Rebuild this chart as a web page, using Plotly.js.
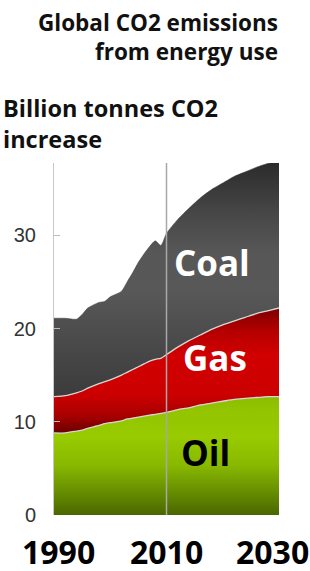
<!DOCTYPE html>
<html>
<head>
<meta charset="utf-8">
<script src="https://cdn.plot.ly/plotly-3.0.1.min.js"></script>
<style>html,body{margin:0;padding:0;background:#fff;}#chart{width:310px;height:571px;}</style>
</head>
<body>
<div id="chart"></div>
<script>
// Years (1990 – 2030)
const years = [1990, 1992, 1994, 1995, 1996, 1998, 1999, 2000, 2002, 2003, 2004, 2005, 2006, 2007, 2008, 2009, 2010, 2012, 2014, 2016, 2018, 2020, 2022, 2024, 2026, 2028, 2030];
// Billion tonnes CO2 per fuel (stacked: oil at bottom, then gas, then coal)
const oil  = [8.8, 8.8, 9.0, 9.1, 9.3, 9.6, 9.8, 9.9, 10.1, 10.3, 10.4, 10.5, 10.6, 10.7, 10.8, 10.9, 11.0, 11.3, 11.5, 11.8, 12.0, 12.2, 12.4, 12.5, 12.6, 12.7, 12.7];
const gas  = [3.9, 4.0, 4.1, 4.2, 4.3, 4.5, 4.5, 4.6, 4.9, 5.0, 5.2, 5.4, 5.6, 5.8, 5.9, 5.9, 6.2, 6.7, 7.2, 7.5, 7.9, 8.2, 8.4, 8.7, 9.0, 9.2, 9.5];
const coal = [8.4, 8.3, 7.9, 8.2, 8.6, 8.7, 8.6, 8.9, 9.0, 9.7, 10.4, 11.2, 11.8, 12.3, 12.7, 12.1, 13.0, 13.7, 14.2, 14.7, 15.0, 15.2, 15.5, 15.6, 15.7, 15.8, 15.7];

const yTicks = [0, 10, 20, 30];
const xLabels = ['1990', '2010', '2030'];
const xLabelYears = [1990, 2010, 2030];
const fuelNames = ['Oil', 'Gas', 'Coal'];
const fuelLabelX = [2017.0, 2018.6, 2018.1];
const fuelLabelY = [6.75, 16.9, 27.1];

const W = 310, H = 571;
const M = {l: 54, r: 31, t: 163, b: 56};
const plotH = H - M.t - M.b;
const baseY = H - M.b;

const traces = [
  {
    x: years, y: oil, name: 'Oil', type: 'scatter', mode: 'lines', stackgroup: 'one',
    line: {color: '#d6d6d6', width: 1.3, shape: 'spline', smoothing: 0.6},
    fillgradient: {type: 'vertical', start: 0, stop: 38,
      colorscale: [[0, '#4a6600'], [0.06, '#648b00'], [0.14, '#88b800'], [0.22, '#98cb00'], [0.3, '#92c400'], [0.36, '#88b600'], [1, '#88b600']]}
  },
  {
    x: years, y: gas, name: 'Gas', type: 'scatter', mode: 'lines', stackgroup: 'one',
    line: {color: '#d6d6d6', width: 1.3, shape: 'spline', smoothing: 0.6},
    fillgradient: {type: 'vertical', start: 0, stop: 38,
      colorscale: [[0, '#600000'], [0.23, '#680000'], [0.28, '#a80000'], [0.34, '#cc0000'], [0.45, '#d20000'], [0.52, '#b40000'], [0.59, '#780000'], [1, '#780000']]}
  },
  {
    x: years, y: coal, name: 'Coal', type: 'scatter', mode: 'lines', stackgroup: 'one',
    line: {color: '#3a3a3a', width: 0.5, shape: 'spline', smoothing: 0.6},
    fillgradient: {type: 'vertical', start: 0, stop: 38,
      colorscale: [[0, '#3a3a3a'], [0.34, '#3c3c3c'], [0.47, '#484848'], [0.63, '#585858'], [0.74, '#575757'], [0.85, '#474747'], [1, '#2a2a2a']]}
  }
];

const annotations = [];
// y-axis caption
annotations.push({
  text: 'Billion tonnes CO2<br>increase', xref: 'paper', yref: 'paper',
  x: (1 - M.l) / (W - M.l - M.r), y: (baseY - 124) / plotH,
  xanchor: 'left', yanchor: 'middle', align: 'left', showarrow: false,
  font: {family: 'Open Sans', size: 23.5, color: '#111', weight: 'bold'}
});
// x tick labels (bold, large)
const xShift = [4.5, 0, -6.5];
xLabels.forEach((t, i) => annotations.push({
  text: t, xref: 'x', yref: 'paper', x: xLabelYears[i], y: (baseY - 551) / plotH,
  xshift: xShift[i], xanchor: 'center', yanchor: 'middle', valign: 'middle',
  height: 26, borderpad: 0, showarrow: false,
  font: {family: 'Open Sans', size: 32, color: '#000', weight: 'bold'}
}));
// fuel labels inside areas
const fuelColors = ['#000', '#fff', '#fff'];
fuelNames.forEach((t, i) => annotations.push({
  text: t, xref: 'x', yref: 'y', x: fuelLabelX[i], y: fuelLabelY[i],
  xanchor: 'center', yanchor: 'middle', showarrow: false,
  font: {family: 'Open Sans', size: 35, color: fuelColors[i], weight: 'bold'}
}));

const layout = {
  width: W, height: H,
  margin: M,
  paper_bgcolor: '#fff', plot_bgcolor: '#fff',
  showlegend: false,
  title: {
    text: 'Global CO2 emissions<br>from energy use',
    x: 278 / W, xref: 'container', xanchor: 'right',
    y: 1 - 31 / H, yref: 'container', yanchor: 'middle',
    font: {family: 'Open Sans', size: 22.5, color: '#111', weight: 'bold'}
  },
  xaxis: {
    range: [1990, 2030], showgrid: false, zeroline: false, showline: false,
    showticklabels: false, ticks: '', fixedrange: true
  },
  yaxis: {
    range: [0, 37.75], showgrid: false, zeroline: false,
    showline: true, linecolor: '#c8c8c8', linewidth: 1,
    tickvals: yTicks, ticktext: yTicks.map(String),
    ticks: 'inside', ticklen: 6, tickcolor: '#bbbbbb', tickwidth: 1,
    ticklabelstandoff: 13,
    tickfont: {family: 'Liberation Sans', size: 20, color: '#333'},
    fixedrange: true
  },
  shapes: [{
    type: 'line', xref: 'x', yref: 'paper', x0: 2010, x1: 2010, y0: 0, y1: 1,
    line: {color: '#a8a8a8', width: 1.5}, layer: 'above'
  }],
  annotations: annotations
};

Plotly.newPlot('chart', traces, layout, {displayModeBar: false, staticPlot: true});
</script>
</body>
</html>
